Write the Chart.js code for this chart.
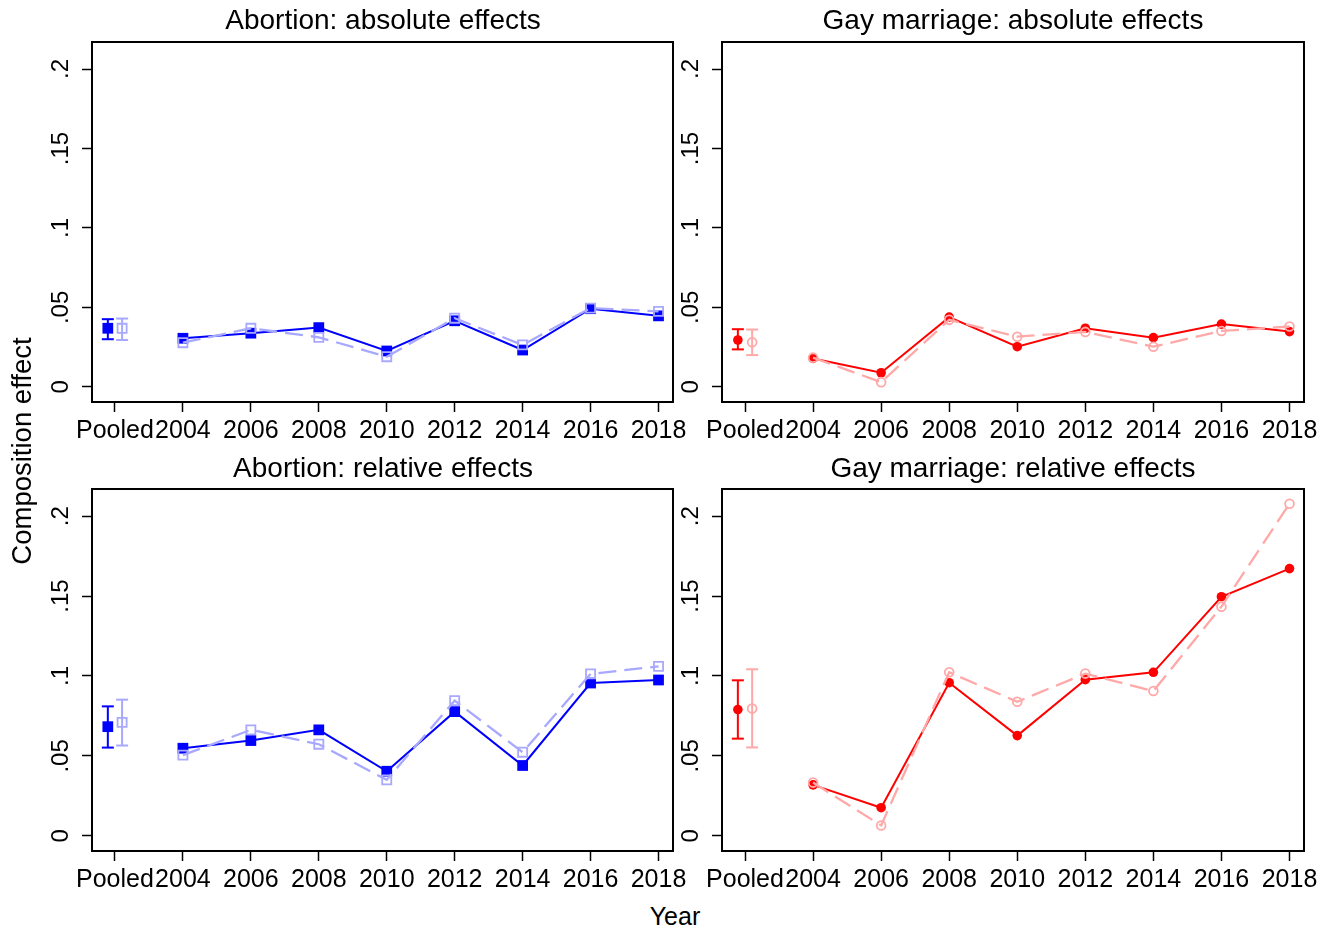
<!DOCTYPE html>
<html>
<head>
<meta charset="utf-8">
<script src="https://cdn.jsdelivr.net/npm/chart.js@4/dist/chart.umd.min.js"></script>
<style>
  body { margin: 0; background: #fff; width: 1332px; height: 930px; position: relative; overflow: hidden;
         font-family: 'Liberation Sans', Arial, Helvetica, sans-serif; color: #000; }
  canvas { position: absolute; }
  .txt { position: absolute; white-space: nowrap; text-align: center; }
  .ptitle { font-size: 28px; line-height: 28px; width: 600px; }
</style>
</head>
<body>
<canvas id="c1" width="700" height="450" style="left:0;top:0"></canvas>
<canvas id="c2" width="702" height="450" style="left:630px;top:0"></canvas>
<canvas id="c3" width="700" height="450" style="left:0;top:448px"></canvas>
<canvas id="c4" width="702" height="450" style="left:630px;top:448px"></canvas>

<div class="txt ptitle" style="left:83px;top:6px">Abortion: absolute effects</div>
<div class="txt ptitle" style="left:713px;top:6px">Gay marriage: absolute effects</div>
<div class="txt ptitle" style="left:83px;top:454px">Abortion: relative effects</div>
<div class="txt ptitle" style="left:713px;top:454px">Gay marriage: relative effects</div>
<div class="txt" style="font-size:27.5px;line-height:28px;width:400px;left:-178px;top:437px;transform:rotate(-90deg)">Composition effect</div>
<div class="txt" style="font-size:25px;line-height:25px;width:200px;left:575px;top:904px">Year</div>

<script>
// --- axis labels ---
const xLabels = ['Pooled', '2004', '2006', '2008', '2010', '2012', '2014', '2016', '2018'];
const yTicks = [0, 0.05, 0.1, 0.15, 0.2];
const yTickLabels = ['0', '.05', '.1', '.15', '.2'];

// --- data: values per year 2004..2018 ---
// pooled = [estimate, low, high]
const abAbsSolid  = [0.0306, 0.0338, 0.0373, 0.0226, 0.0416, 0.0232, 0.0492, 0.0447];
const abAbsHollow = [0.0278, 0.0369, 0.0312, 0.0190, 0.0432, 0.0264, 0.0496, 0.0475];
const abAbsPooledSolid  = [0.0369, 0.0300, 0.0426];
const abAbsPooledHollow = [0.0369, 0.0295, 0.0430];

const gmAbsSolid  = [0.0179, 0.0089, 0.0439, 0.0253, 0.0369, 0.0310, 0.0395, 0.0348];
const gmAbsHollow = [0.0184, 0.0030, 0.0422, 0.0316, 0.0346, 0.0253, 0.0352, 0.0380];
const gmAbsPooledSolid  = [0.0295, 0.0236, 0.0363];
const gmAbsPooledHollow = [0.0281, 0.0200, 0.0361];

const abRelSolid  = [0.0548, 0.0596, 0.0663, 0.0404, 0.0777, 0.0440, 0.0956, 0.0975];
const abRelHollow = [0.0505, 0.0663, 0.0573, 0.0350, 0.0846, 0.0523, 0.1013, 0.1060];
const abRelPooledSolid  = [0.0683, 0.0552, 0.0810];
const abRelPooledHollow = [0.0710, 0.0565, 0.0852];

const gmRelSolid  = [0.0319, 0.0176, 0.0958, 0.0627, 0.0977, 0.1023, 0.1496, 0.1672];
const gmRelHollow = [0.0333, 0.0065, 0.1023, 0.0839, 0.1015, 0.0906, 0.1434, 0.2078];
const gmRelPooledSolid  = [0.0790, 0.0608, 0.0973];
const gmRelPooledHollow = [0.0797, 0.0553, 0.1042];

Chart.defaults.font.family = "'Liberation Sans', Arial, Helvetica, sans-serif";
Chart.defaults.color = '#000';

// box around the plot region
const framePlugin = {
  id: 'frame',
  beforeDatasetsDraw(chart) {
    const { ctx, chartArea: a } = chart;
    ctx.save();
    ctx.strokeStyle = '#000';
    ctx.lineWidth = 2;
    ctx.strokeRect(a.left, a.top, a.right - a.left, a.bottom - a.top);
    ctx.restore();
  }
};

function yearPoints(arr) {
  return arr.map((v, i) => ({ x: i + 1, y: v }));
}

function makePanel(id, o) {
  const dark = o.dark, light = o.light;
  const solidStyle = o.marker === 'rect' ? 'rect' : 'circle';
  const rSolid = o.marker === 'rect' ? 7.6 : 4.8;
  const rHollow = o.marker === 'rect' ? 6.4 : 4.4;
  const off = 0.105;

  const datasets = [
    // hollow series (dashed), drawn on top
    { data: yearPoints(o.hollow), showLine: true, borderColor: light, borderWidth: 2.3, borderDash: [18, 8],
      pointStyle: solidStyle, pointRadius: rHollow, pointBorderWidth: 1.8,
      pointBorderColor: light, pointBackgroundColor: 'rgba(0,0,0,0)' },
    { data: [{ x: off, y: o.pooledHollow[0] }], showLine: false,
      pointStyle: solidStyle, pointRadius: rHollow, pointBorderWidth: 1.8,
      pointBorderColor: light, pointBackgroundColor: 'rgba(0,0,0,0)' },
    { data: [{ x: off, y: o.pooledHollow[1] }, { x: off, y: o.pooledHollow[2] }], showLine: true,
      borderColor: light, borderWidth: 2, pointStyle: 'line', pointRadius: 6,
      pointBorderWidth: 2, pointBorderColor: light },
    // solid series
    { data: yearPoints(o.solid), showLine: true, borderColor: dark, borderWidth: 2,
      pointStyle: solidStyle, pointRadius: rSolid, pointBorderWidth: 0,
      pointBorderColor: dark, pointBackgroundColor: dark },
    { data: [{ x: -off, y: o.pooledSolid[0] }], showLine: false,
      pointStyle: solidStyle, pointRadius: rSolid, pointBorderWidth: 0,
      pointBorderColor: dark, pointBackgroundColor: dark },
    { data: [{ x: -off, y: o.pooledSolid[1] }, { x: -off, y: o.pooledSolid[2] }], showLine: true,
      borderColor: dark, borderWidth: 2, pointStyle: 'line', pointRadius: 6,
      pointBorderWidth: 2, pointBorderColor: dark }
  ];

  return new Chart(document.getElementById(id), {
    type: 'scatter',
    data: { datasets },
    plugins: [framePlugin],
    options: {
      responsive: false,
      animation: false,
      devicePixelRatio: 1,
      layout: { padding: { top: o.padTop, right: o.padRight, left: 0, bottom: 0 } },
      plugins: { legend: { display: false }, tooltip: { enabled: false } },
      elements: { line: { tension: 0 } },
      scales: {
        x: {
          type: 'linear', min: -0.338, max: 8.213,
          afterBuildTicks: s => { s.ticks = xLabels.map((_, i) => ({ value: i })); },
          afterFit: s => { s.height = o.xHeight; },
          border: { display: false },
          grid: { drawOnChartArea: false, tickLength: 10, tickWidth: 1.5, tickColor: '#000' },
          ticks: { autoSkip: false, maxRotation: 0, padding: 4, font: { size: 25 }, color: '#000',
                   callback: (v, i) => xLabels[i] }
        },
        y: {
          min: -0.0095, max: 0.217,
          afterBuildTicks: s => { s.ticks = yTicks.map(v => ({ value: v })); },
          afterFit: s => { s.width = 92; },
          border: { display: false },
          grid: { drawOnChartArea: false, tickLength: 10, tickWidth: 1.5, tickColor: '#000' },
          ticks: { minRotation: 90, maxRotation: 90, crossAlign: 'center', padding: 4,
                   font: { size: 24 }, color: '#000', callback: (v, i) => yTickLabels[i] }
        }
      }
    }
  });
}

const BLUE = '#0000ff', LBLUE = '#a8a8ff', RED = '#ff0000', LRED = '#ffa8a8';

makePanel('c1', { dark: BLUE, light: LBLUE, marker: 'rect', solid: abAbsSolid, hollow: abAbsHollow,
  pooledSolid: abAbsPooledSolid, pooledHollow: abAbsPooledHollow, padTop: 42, padRight: 27, xHeight: 48 });
makePanel('c2', { dark: RED, light: LRED, marker: 'circle', solid: gmAbsSolid, hollow: gmAbsHollow,
  pooledSolid: gmAbsPooledSolid, pooledHollow: gmAbsPooledHollow, padTop: 42, padRight: 28, xHeight: 48 });
makePanel('c3', { dark: BLUE, light: LBLUE, marker: 'rect', solid: abRelSolid, hollow: abRelHollow,
  pooledSolid: abRelPooledSolid, pooledHollow: abRelPooledHollow, padTop: 41, padRight: 27, xHeight: 47 });
makePanel('c4', { dark: RED, light: LRED, marker: 'circle', solid: gmRelSolid, hollow: gmRelHollow,
  pooledSolid: gmRelPooledSolid, pooledHollow: gmRelPooledHollow, padTop: 41, padRight: 28, xHeight: 47 });
</script>
</body>
</html>
